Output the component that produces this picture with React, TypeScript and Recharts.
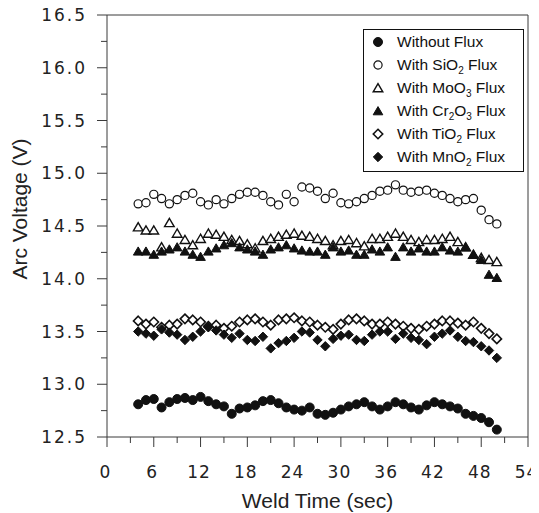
import React from "react";
import { ScatterChart, Scatter, XAxis, YAxis, ReferenceLine } from "recharts";

// weld time (sec), one reading per second
const weldTime = [
  4, 5, 6, 7, 8, 9, 10, 11, 12, 13, 14, 15, 16, 17, 18, 19, 20, 21, 22, 23, 24, 25, 26, 27,
  28, 29, 30, 31, 32, 33, 34, 35, 36, 37, 38, 39, 40, 41, 42, 43, 44, 45, 46, 47, 48, 49, 50,
];

const withoutFlux = [
  12.81, 12.85, 12.86, 12.78, 12.83, 12.86, 12.87, 12.85, 12.88, 12.84, 12.81, 12.79, 12.72,
  12.77, 12.78, 12.8, 12.84, 12.85, 12.82, 12.78, 12.76, 12.75, 12.78, 12.72, 12.71, 12.73,
  12.76, 12.79, 12.81, 12.83, 12.79, 12.76, 12.79, 12.83, 12.81, 12.78, 12.76, 12.8, 12.83,
  12.81, 12.79, 12.77, 12.72, 12.7, 12.68, 12.64, 12.57,
];

const sio2Flux = [
  14.71, 14.72, 14.8, 14.76, 14.71, 14.75, 14.79, 14.81, 14.73, 14.7, 14.75, 14.71, 14.76,
  14.8, 14.82, 14.82, 14.79, 14.73, 14.7, 14.8, 14.73, 14.87, 14.86, 14.83, 14.76, 14.81,
  14.72, 14.71, 14.73, 14.76, 14.79, 14.83, 14.84, 14.89, 14.84, 14.82, 14.83, 14.84, 14.81,
  14.79, 14.76, 14.73, 14.75, 14.76, 14.65, 14.56, 14.52,
];

const moo3Flux = [
  14.49, 14.46, 14.46, 14.3, 14.53, 14.43, 14.37, 14.32, 14.38, 14.43, 14.42, 14.4, 14.37,
  14.36, 14.33, 14.29, 14.36, 14.38, 14.4, 14.42, 14.43, 14.41, 14.4, 14.38, 14.36, 14.32,
  14.36, 14.37, 14.34, 14.31, 14.38, 14.38, 14.4, 14.43, 14.4, 14.37, 14.35, 14.37, 14.37,
  14.38, 14.4, 14.35, 14.3, 14.23, 14.2, 14.18, 14.16,
];

const cr2o3Flux = [
  14.26, 14.26, 14.23, 14.26, 14.28, 14.3, 14.26, 14.23, 14.21, 14.26, 14.29, 14.32, 14.34,
  14.3, 14.28, 14.26, 14.23, 14.28, 14.3, 14.32, 14.29, 14.27, 14.26, 14.26, 14.23, 14.3,
  14.26, 14.27, 14.23, 14.23, 14.28, 14.26, 14.3, 14.21, 14.3, 14.26, 14.29, 14.26, 14.26,
  14.3, 14.27, 14.26, 14.3, 14.23, 14.18, 14.04, 14.01,
];

const tio2Flux = [
  13.6, 13.57, 13.59, 13.54, 13.56, 13.57, 13.62, 13.61, 13.59, 13.55, 13.56, 13.53, 13.55,
  13.59, 13.61, 13.62, 13.59, 13.56, 13.61, 13.62, 13.63, 13.6, 13.59, 13.56, 13.54, 13.52,
  13.57, 13.61, 13.62, 13.6, 13.57, 13.57, 13.59, 13.57, 13.55, 13.53, 13.52, 13.55, 13.57,
  13.6, 13.6, 13.58, 13.56, 13.59, 13.53, 13.48, 13.43,
];

const mno2Flux = [
  13.5, 13.48, 13.46, 13.52, 13.49, 13.47, 13.42, 13.45, 13.5, 13.54, 13.51, 13.47, 13.44,
  13.48, 13.42, 13.41, 13.45, 13.34, 13.39, 13.41, 13.44, 13.5, 13.49, 13.42, 13.36, 13.43,
  13.46, 13.47, 13.42, 13.41, 13.47, 13.5, 13.5, 13.43, 13.48, 13.44, 13.42, 13.38, 13.45,
  13.48, 13.51, 13.45, 13.41, 13.4, 13.36, 13.32, 13.25,
];

const xTicks = [0, 3, 6, 9, 12, 15, 18, 21, 24, 27, 30, 33, 36, 39, 42, 45, 48, 51, 54];
const xLabels = [0, 6, 12, 18, 24, 30, 36, 42, 48, 54];
const yTicks = [
  12.5, 12.75, 13, 13.25, 13.5, 13.75, 14, 14.25, 14.5, 14.75, 15, 15.25, 15.5, 15.75, 16,
  16.25, 16.5,
];
const yLabels = [12.5, 13, 13.5, 14, 14.5, 15, 15.5, 16, 16.5];

const ink = "#111";
const axisColor = "#3a3a3a";
const tickFont = "'DejaVu Sans', Verdana, sans-serif";
const titleFont = "'Liberation Sans', Arial, sans-serif";

type Kind = "dot" | "circle" | "tri" | "triFill" | "dia" | "diaFill";

function Marker({ cx, cy, kind }: { cx: number; cy: number; kind: Kind }) {
  if (cx == null || cy == null) return null;
  switch (kind) {
    case "dot":
      return <circle cx={cx} cy={cy} r={4.5} fill={ink} stroke={ink} strokeWidth={1} />;
    case "circle":
      return <circle cx={cx} cy={cy} r={4.1} fill="#fff" stroke={ink} strokeWidth={1.2} />;
    case "tri":
    case "triFill": {
      const pts = `${cx},${cy - 4.4} ${cx - 4.8},${cy + 3.8} ${cx + 4.8},${cy + 3.8}`;
      return (
        <polygon
          points={pts}
          fill={kind === "tri" ? "#fff" : ink}
          stroke={ink}
          strokeWidth={kind === "tri" ? 1.4 : 1}
        />
      );
    }
    default: {
      const d = 4.7;
      const pts = `${cx},${cy - d} ${cx + d},${cy} ${cx},${cy + d} ${cx - d},${cy}`;
      return (
        <polygon
          points={pts}
          fill={kind === "dia" ? "#fff" : ink}
          stroke={ink}
          strokeWidth={kind === "dia" ? 1.6 : 1}
        />
      );
    }
  }
}

const toPoints = (values: number[]) => weldTime.map((t, i) => ({ t, v: values[i] }));

function Sub({ children }: { children: React.ReactNode }) {
  return <span style={{ fontSize: 10, position: "relative", top: 4 }}>{children}</span>;
}

const series: { name: string; kind: Kind; values: number[]; label: React.ReactNode }[] = [
  { name: "Without Flux", kind: "dot", values: withoutFlux, label: <>Without Flux</> },
  {
    name: "With SiO2 Flux",
    kind: "circle",
    values: sio2Flux,
    label: (
      <>
        With SiO<Sub>2</Sub> Flux
      </>
    ),
  },
  {
    name: "With MoO3 Flux",
    kind: "tri",
    values: moo3Flux,
    label: (
      <>
        With MoO<Sub>3</Sub> Flux
      </>
    ),
  },
  {
    name: "With Cr2O3 Flux",
    kind: "triFill",
    values: cr2o3Flux,
    label: (
      <>
        With Cr<Sub>2</Sub>O<Sub>3</Sub> Flux
      </>
    ),
  },
  {
    name: "With TiO2 Flux",
    kind: "dia",
    values: tio2Flux,
    label: (
      <>
        With TiO<Sub>2</Sub> Flux
      </>
    ),
  },
  {
    name: "With MnO2 Flux",
    kind: "diaFill",
    values: mno2Flux,
    label: (
      <>
        With MnO<Sub>2</Sub> Flux
      </>
    ),
  },
];

function XTick(props: any) {
  const { x, y, payload } = props;
  const major = xLabels.includes(payload.value);
  return (
    <g>
      <line x1={x} x2={x} y1={y} y2={y + (major ? 10 : 6)} stroke={axisColor} />
      {major && (
        <text
          x={x - 1.5}
          y={y + 41}
          textAnchor="middle"
          fontFamily={tickFont}
          fontSize={17}
          letterSpacing={1}
          fill="#222"
        >
          {payload.value}
        </text>
      )}
    </g>
  );
}

function YTick(props: any) {
  const { x, y, payload } = props;
  const major = yLabels.includes(payload.value);
  return (
    <g>
      <line x1={x} x2={x - (major ? 10 : 6)} y1={y} y2={y} stroke={axisColor} />
      {major && (
        <text
          x={x - 20}
          y={y + 6}
          textAnchor="end"
          fontFamily={tickFont}
          fontSize={17}
          letterSpacing={2}
          fill="#222"
        >
          {payload.value.toFixed(1)}
        </text>
      )}
    </g>
  );
}

function LegendBox() {
  return (
    <div
      style={{
        position: "absolute",
        left: 355,
        top: 21,
        width: 159,
        height: 140,
        border: `1px solid ${ink}`,
        background: "#fff",
        paddingTop: 0.5,
        fontFamily: titleFont,
        fontSize: 15.5,
        color: ink,
        boxSizing: "content-box",
      }}
    >
      {series.map((s) => (
        <div key={s.name} style={{ height: 23, display: "flex", alignItems: "center" }}>
          <svg width={14} height={14} style={{ marginLeft: 7, marginRight: 12, flex: "none" }}>
            <Marker cx={7} cy={7} kind={s.kind} />
          </svg>
          <span style={{ whiteSpace: "nowrap" }}>{s.label}</span>
        </div>
      ))}
    </div>
  );
}

export default function App() {
  return (
    <div style={{ position: "relative", width: 531, height: 505 }}>
      <style>{`.recharts-surface { overflow: visible; }`}</style>
      <ScatterChart width={531} height={505} margin={{ top: 7, right: 11, bottom: 0, left: 0 }}>
        <XAxis
          dataKey="t"
          type="number"
          domain={[0, 54]}
          ticks={xTicks}
          interval={0}
          allowDataOverflow
          tickSize={0}
          tickMargin={0}
          tickLine={false}
          tick={<XTick />}
          height={76}
          axisLine={{ stroke: axisColor }}
          label={{
            content: ({ viewBox }: any) => (
              <text
                x={viewBox.x + viewBox.width / 2}
                y={viewBox.y + 71}
                textAnchor="middle"
                fontFamily={titleFont}
                fontSize={21}
                fill="#222"
              >
                Weld Time (sec)
              </text>
            ),
          }}
        />
        <YAxis
          dataKey="v"
          type="number"
          domain={[12.5, 16.5]}
          ticks={yTicks}
          interval={0}
          allowDataOverflow
          tickSize={0}
          tickMargin={0}
          tickLine={false}
          tick={<YTick />}
          width={99}
          axisLine={{ stroke: axisColor }}
          label={{
            content: ({ viewBox }: any) => {
              const cy = viewBox.y + viewBox.height / 2 - 17;
              return (
                <text
                  transform={`translate(19, ${cy}) rotate(-90)`}
                  textAnchor="middle"
                  fontFamily={titleFont}
                  fontSize={21}
                  fill="#222"
                >
                  Arc Voltage (V)
                </text>
              );
            },
          }}
        />
        <ReferenceLine y={16.5} stroke={axisColor} />
        <ReferenceLine x={54} stroke={axisColor} />
        {series.map((s) => (
          <Scatter
            key={s.name}
            name={s.name}
            data={toPoints(s.values)}
            isAnimationActive={false}
            shape={(p: any) => <Marker cx={p.cx} cy={p.cy} kind={s.kind} />}
          />
        ))}
      </ScatterChart>
      <LegendBox />
    </div>
  );
}
